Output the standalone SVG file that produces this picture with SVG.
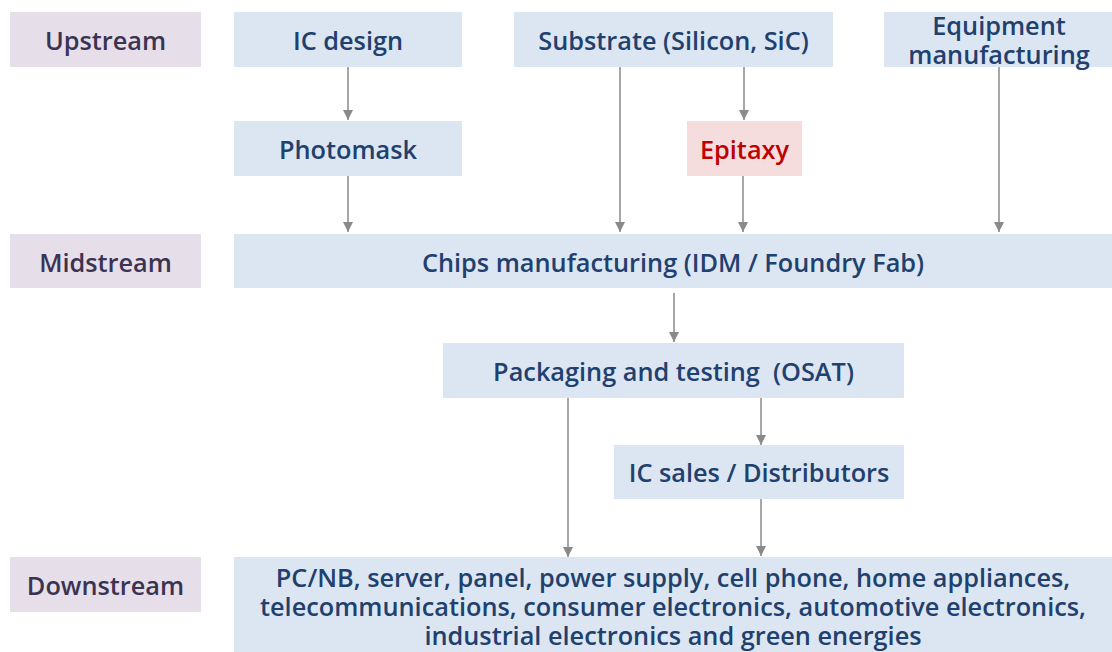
<svg xmlns="http://www.w3.org/2000/svg" width="1112" height="652" viewBox="0 0 1112 652">
<defs>
<marker id="ah" viewBox="0 0 10 10" refX="10" refY="5" markerWidth="10" markerHeight="10" markerUnits="userSpaceOnUse" orient="auto">
<path d="M0,0 L10,5 L0,10 z" fill="#8a8a8a"/>
</marker>
<style>
.lvl{fill:#e6dfea}
.nd{fill:#dce6f2}
.ep{fill:#f5dddd}
text{font-family:"Open Sans","Noto Sans","Liberation Sans",sans-serif;font-size:25.3px;font-weight:600;text-anchor:middle;dominant-baseline:central}
.lt{fill:#3a3352}
.nt{fill:#21406e}
.et{fill:#c00000}
.cn line{stroke:#8a8a8a;stroke-width:1.5;marker-end:url(#ah)}
</style>
</defs>
<rect width="1112" height="652" fill="#ffffff"/>
<g id="upstream"><rect class="lvl" x="10" y="12" width="191" height="55"/><text class="lt" x="105.5" y="40">Upstream</text></g>
<g id="midstream"><rect class="lvl" x="10" y="234" width="191" height="54"/><text class="lt" x="105.5" y="262">Midstream</text></g>
<g id="downstream"><rect class="lvl" x="10" y="557" width="191" height="55"/><text class="lt" x="105.5" y="585">Downstream</text></g>
<g id="ic-design"><rect class="nd" x="234" y="12" width="228" height="55"/><text class="nt" x="348" y="40">IC design</text></g>
<g id="substrate"><rect class="nd" x="514" y="12" width="319" height="55"/><text class="nt" x="673.5" y="40">Substrate (Silicon, SiC)</text></g>
<g id="equipment"><rect class="nd" x="884" y="12" width="228" height="55"/><text class="nt" x="999" y="25">Equipment</text><text class="nt" x="999" y="54">manufacturing</text></g>
<g id="photomask"><rect class="nd" x="234" y="121" width="228" height="55"/><text class="nt" x="348" y="149">Photomask</text></g>
<g id="epitaxy"><rect class="ep" x="687" y="121" width="115" height="55"/><text class="et" x="744.5" y="149">Epitaxy</text></g>
<g id="chips"><rect class="nd" x="234" y="234" width="878" height="54"/><text class="nt" x="673" y="262">Chips manufacturing (IDM / Foundry Fab)</text></g>
<g id="packaging"><rect class="nd" x="443" y="343" width="461" height="55"/><text class="nt" x="673.5" y="371" xml:space="preserve">Packaging and testing  (OSAT)</text></g>
<g id="ic-sales"><rect class="nd" x="614" y="445" width="290" height="54"/><text class="nt" x="759" y="472">IC sales / Distributors</text></g>
<g id="applications"><rect class="nd" x="234" y="557" width="878" height="95"/>
<text class="nt" x="673" y="577">PC/NB, server, panel, power supply, cell phone, home appliances,</text>
<text class="nt" x="673" y="606">telecommunications, consumer electronics, automotive electronics,</text>
<text class="nt" x="673" y="635">industrial electronics and green energies</text></g>
<g id="connectors" class="cn">
<line x1="348" y1="67" x2="348" y2="120"/>
<line x1="348" y1="176" x2="348" y2="232"/>
<line x1="620" y1="67" x2="620" y2="232"/>
<line x1="744" y1="67" x2="744" y2="120"/>
<line x1="743" y1="176" x2="743" y2="232"/>
<line x1="999" y1="67" x2="999" y2="232"/>
<line x1="674" y1="293" x2="674" y2="342"/>
<line x1="568" y1="398" x2="568" y2="557"/>
<line x1="761" y1="398" x2="761" y2="445"/>
<line x1="761" y1="499" x2="761" y2="556"/>
</g>
</svg>
